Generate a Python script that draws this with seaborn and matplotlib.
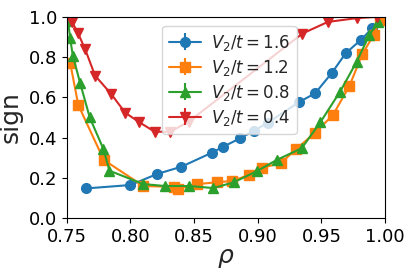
import numpy as np
import matplotlib
matplotlib.use("Agg")
import matplotlib.pyplot as plt
import seaborn as sns

# values
rho_16 = [0.765, 0.800, 0.821, 0.840, 0.864, 0.873, 0.886, 0.897, 0.908,
          0.932, 0.945, 0.958, 0.969, 0.981, 0.990, 0.996]
sign_16 = [0.147, 0.164, 0.219, 0.255, 0.325, 0.355, 0.396, 0.434, 0.474,
           0.575, 0.620, 0.720, 0.819, 0.886, 0.944, 0.985]

rho_12 = [0.7526, 0.759, 0.779, 0.810, 0.834, 0.837, 0.852, 0.868, 0.880,
          0.893, 0.903, 0.918, 0.930, 0.945, 0.959, 0.972, 0.982, 0.991, 0.996]
sign_12 = [0.773, 0.562, 0.289, 0.159, 0.155, 0.145, 0.168, 0.178, 0.184,
           0.214, 0.250, 0.272, 0.342, 0.424, 0.512, 0.657, 0.814, 0.910, 0.985]

rho_08 = [0.751, 0.7526, 0.7547, 0.7605, 0.768, 0.7788, 0.7835, 0.810, 0.827,
          0.846, 0.865, 0.881, 0.899, 0.915, 0.9345, 0.949, 0.9646, 0.9777,
          0.9876, 0.9947]
sign_08 = [0.98, 0.894, 0.808, 0.670, 0.500, 0.342, 0.235, 0.169, 0.159,
           0.159, 0.149, 0.177, 0.232, 0.289, 0.347, 0.475, 0.628, 0.778,
           0.910, 0.975]

rho_04 = [0.7539, 0.7586, 0.7644, 0.7722, 0.7848, 0.7958, 0.8065, 0.819,
          0.8312, 0.8457, 0.935, 0.955, 0.978, 0.9935]
sign_04 = [0.977, 0.922, 0.839, 0.708, 0.617, 0.524, 0.478, 0.429, 0.429,
           0.479, 0.917, 0.975, 0.994, 1.0]

series = [
    (rho_16, sign_16, "o", r"$V_2/t=1.6$"),
    (rho_12, sign_12, "s", r"$V_2/t=1.2$"),
    (rho_08, sign_08, "^", r"$V_2/t=0.8$"),
    (rho_04, sign_04, "v", r"$V_2/t=0.4$"),
]

sns.set_style("ticks")
plt.rcParams["font.family"] = ["DejaVu Sans"]
colors = sns.color_palette("tab10", 4)

fig = plt.figure(figsize=(4.15, 2.77), dpi=100)
ax = fig.add_axes([0.161, 0.213, 0.767, 0.726])

for (x, y, m, lab), c in zip(series, colors):
    ax.errorbar(x, y, yerr=np.zeros(len(y)), marker=m, color=c, label=lab,
                markersize=7, linewidth=1.5)

ax.set_xlim(0.75, 1.0)
ax.set_ylim(0.0, 1.0)
ax.set_xticks([0.75, 0.80, 0.85, 0.90, 0.95, 1.00])
ax.set_yticks([0.0, 0.2, 0.4, 0.6, 0.8, 1.0])
ax.tick_params(labelsize=13, colors="black")
ax.set_xlabel(r"$\rho$", fontsize=18, labelpad=0)
ax.set_ylabel("sign", fontsize=18, labelpad=4)
for s in ax.spines.values():
    s.set_color("black")

ax.legend(loc="upper left", bbox_to_anchor=(0.30, 0.955), borderaxespad=0,
          fontsize=12, handlelength=1.9, borderpad=0.4, labelspacing=0.3,
          handletextpad=0.6)

fig.savefig("out.png", dpi=100)
